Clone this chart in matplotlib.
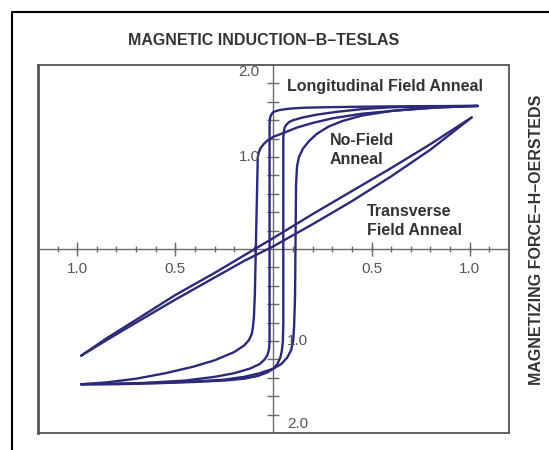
import numpy as np
import matplotlib.pyplot as plt
from matplotlib.lines import Line2D

plt.rcParams['font.family'] = ['Liberation Sans', 'DejaVu Sans']

# 曲线数据 (H: oersteds, B: teslas)
# Longitudinal Field Anneal
long_desc_h = [1.04, 0.8, 0.6, 0.4, 0.25, 0.15, 0.08, 0.03, 0.0, -0.012, -0.018, -0.02, -0.02, -0.02,
               -0.022, -0.03, -0.045, -0.07, -0.12, -0.2, -0.3, -0.45, -0.65, -0.8, -0.98]
long_desc_b = [1.555, 1.553, 1.55, 1.545, 1.54, 1.535, 1.525, 1.51, 1.49, 1.46, 1.42, 1.35, 0.0, -1.0,
               -1.08, -1.15, -1.2, -1.25, -1.3, -1.35, -1.39, -1.43, -1.455, -1.465, -1.47]
long_asc_h = [-0.98, -0.8, -0.6, -0.4, -0.25, -0.15, -0.08, -0.03, 0.0, 0.02, 0.035, 0.043, 0.048, 0.05,
              0.05, 0.052, 0.057, 0.065, 0.08, 0.1, 0.15, 0.22, 0.32, 0.45, 0.6, 0.8, 1.04]
long_asc_b = [-1.47, -1.47, -1.46, -1.445, -1.43, -1.41, -1.38, -1.34, -1.3, -1.25, -1.18, -1.1, -1.0, -0.8,
              1.2, 1.27, 1.32, 1.35, 1.38, 1.40, 1.43, 1.46, 1.49, 1.52, 1.54, 1.55, 1.555]

# No-Field Anneal
nofield_desc_h = [1.04, 0.85, 0.65, 0.45, 0.3, 0.2, 0.12, 0.05, 0.0, -0.03, -0.05, -0.065, -0.075, -0.08,
                  -0.085, -0.09, -0.095, -0.1, -0.105, -0.11, -0.125, -0.15, -0.2, -0.3, -0.41, -0.55,
                  -0.7, -0.85, -0.98]
nofield_desc_b = [1.555, 1.54, 1.51, 1.47, 1.42, 1.37, 1.32, 1.26, 1.22, 1.18, 1.14, 1.1, 1.05, 1.0,
                  0.5, 0.0, -0.5, -0.75, -0.85, -0.92, -0.99, -1.05, -1.12, -1.21, -1.28, -1.35,
                  -1.41, -1.45, -1.47]
nofield_asc_h = [-0.98, -0.8, -0.6, -0.4, -0.25, -0.15, -0.07, 0.0, 0.04, 0.07, 0.09, 0.1, 0.105, 0.11,
                 0.112, 0.115, 0.12, 0.13, 0.15, 0.18, 0.22, 0.28, 0.35, 0.45, 0.6, 0.8, 1.04]
nofield_asc_b = [-1.47, -1.465, -1.455, -1.44, -1.42, -1.39, -1.35, -1.3, -1.25, -1.18, -1.1, -1.0, -0.85, -0.5,
                 0.0, 0.7, 0.9, 1.0, 1.09, 1.17, 1.25, 1.33, 1.39, 1.45, 1.5, 1.535, 1.555]

# Transverse Field Anneal
trans_desc_h = [1.01, 0.8, 0.6, 0.4, 0.2, 0.0, -0.15, -0.3, -0.5, -0.7, -0.85, -0.98]
trans_desc_b = [1.43, 1.14, 0.88, 0.63, 0.38, 0.12, -0.07, -0.26, -0.5, -0.77, -0.97, -1.16]
trans_asc_h = [-0.98, -0.85, -0.7, -0.5, -0.3, -0.15, 0.0, 0.2, 0.4, 0.6, 0.8, 1.01]
trans_asc_b = [-1.16, -0.99, -0.8, -0.55, -0.31, -0.13, 0.03, 0.27, 0.52, 0.79, 1.08, 1.43]

x_minor = [-1.1, -1.0, -0.9, -0.8, -0.7, -0.6, -0.5, -0.4, -0.3, -0.2, -0.1,
           0.1, 0.2, 0.3, 0.4, 0.5, 0.6, 0.7, 0.8, 0.9, 1.0, 1.1]
x_major = [-1.0, -0.5, 0.5, 1.0]
x_labels = ['1.0', '0.5', '0.5', '1.0']
y_ticks = [-1.8, -1.6, -1.4, -1.2, -1.0, -0.8, -0.6, -0.4, -0.2,
           0.2, 0.4, 0.6, 0.8, 1.0, 1.2, 1.4, 1.6, 1.8]

line_color = '#2b2a78'
axis_color = '#6a6a6a'

fig = plt.figure(figsize=(5.49, 4.5), dpi=100)
ax = fig.add_axes([0.0692, 0.0378, 0.8579, 0.8178])

# 中心坐标轴和刻度
ax.axhline(0, color=axis_color, lw=1.0, zorder=1)
ax.axvline(0, color=axis_color, lw=1.0, zorder=1)
ax.plot(x_minor, [0] * len(x_minor), ls='none', marker='|', ms=5, mew=1.0, color=axis_color, zorder=1)
ax.plot(x_major, [0] * len(x_major), ls='none', marker='|', ms=10, mew=1.0, color=axis_color, zorder=1)
ax.plot([0] * len(y_ticks), y_ticks, ls='none', marker='_', ms=9, mew=1.0, color=axis_color, zorder=1)

for h, b in [(long_desc_h, long_desc_b), (long_asc_h, long_asc_b),
             (nofield_desc_h, nofield_desc_b), (nofield_asc_h, nofield_asc_b),
             (trans_desc_h, trans_desc_b), (trans_asc_h, trans_asc_b)]:
    ax.plot(h, b, color=line_color, lw=1.7, solid_capstyle='round', solid_joinstyle='round', zorder=3)

ax.set_xlim(-1.2, 1.2)
ax.set_ylim(-2.0, 2.0)
ax.set_xticks([])
ax.set_yticks([])
for s in ax.spines.values():
    s.set_color('#555555')
    s.set_linewidth(1.3)
ax.spines['left'].set_linewidth(2.0)

# 刻度标签
lab_color = '#555555'
for xv, lab in zip(x_major, x_labels):
    ax.text(xv, -0.22, lab, ha='center', va='center', fontsize=11, color=lab_color)
ax.text(-0.07, 1.92, '2.0', ha='right', va='center', fontsize=11, color=lab_color)
ax.text(-0.07, 1.0, '1.0', ha='right', va='center', fontsize=11, color=lab_color)
ax.text(0.07, -1.0, '1.0', ha='left', va='center', fontsize=11, color=lab_color)
ax.text(0.07, -1.9, '2.0', ha='left', va='center', fontsize=11, color=lab_color)

# 曲线注释
txt_color = '#333333'
ax.text(0.071, 1.77, 'Longitudinal Field Anneal', ha='left', va='center', fontsize=11.5,
        fontweight='bold', color=txt_color)
ax.text(0.286, 1.08, 'No-Field\nAnneal', ha='left', va='center', fontsize=11.5,
        fontweight='bold', color=txt_color, linespacing=1.35)
ax.text(0.474, 0.30, 'Transverse\nField Anneal', ha='left', va='center', fontsize=11.5,
        fontweight='bold', color=txt_color, linespacing=1.35)

fig.text(0.481, 0.911, 'MAGNETIC INDUCTION\u2013B\u2013TESLAS', ha='center', va='center',
         fontsize=11.5, fontweight='bold', color='#333333')
fig.text(0.978, 0.467, 'MAGNETIZING FORCE\u2013H\u2013OERSTEDS', ha='center', va='center',
         rotation=90, fontsize=11.5, fontweight='bold', color='#333333')

# 外框
fig.add_artist(Line2D([0.0219, 0.0219, 1.0], [0.0, 0.973, 0.973], color='black', lw=1.5))

plt.savefig('out.png', dpi=100)
